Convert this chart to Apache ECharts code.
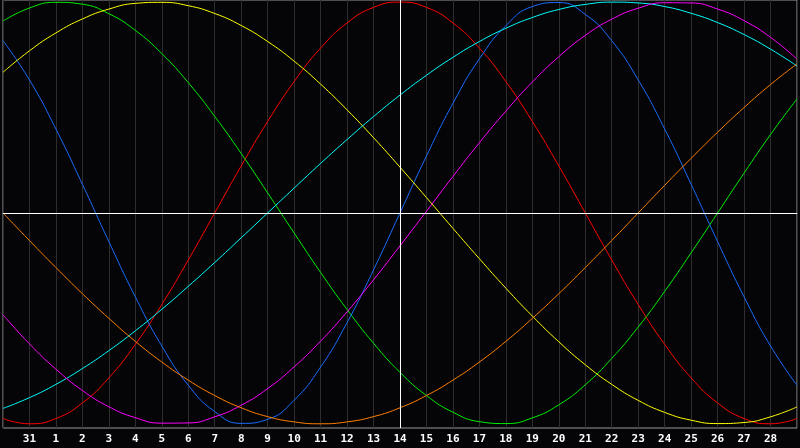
<!DOCTYPE html>
<html>
<head>
<meta charset="utf-8">
<script src="https://cdn.jsdelivr.net/npm/echarts@6/dist/echarts.min.js"></script>
<style>
html,body{margin:0;padding:0;background:#050508;}
#chart{width:800px;height:448px;}
</style>
</head>
<body>
<div id="chart"></div>
<script>
// Day labels (first and last are at the chart edges and not shown)
var dayLabels = ['30','31','1','2','3','4','5','6','7','8','9','10','11','12','13','14','15','16','17','18','19','20','21','22','23','24','25','26','27','28','29'];

// Cycle values (percent), one per day
var redValues     = [-97.5,-100,-97.5,-90.1,-78.2,-62.3,-43.4,-22.3,0,22.3,43.4,62.3,78.2,90.1,97.5,100,97.5,90.1,78.2,62.3,43.4,22.3,0,-22.3,-43.4,-62.3,-78.2,-90.1,-97.5,-100,-97.5];
var blueValues    = [81.7,63.1,39.8,13.6,-13.6,-39.8,-63.1,-81.7,-94.2,-99.8,-97.9,-88.8,-73.1,-52,-27,0,27,52,73.1,88.8,97.9,99.8,94.2,81.7,63.1,39.8,13.6,-13.6,-39.8,-63.1,-81.7];
var greenValues   = [91,97.2,99.9,99,94.5,86.6,75.6,61.8,45.8,28.2,9.5,-9.5,-28.2,-45.8,-61.8,-75.6,-86.6,-94.5,-99,-99.9,-97.2,-91,-81.5,-69,-54.1,-37.2,-18.9,0,18.9,37.2,54.1];
var yellowValues  = [66.7,76.9,85.4,92,96.7,99.4,99.9,98.3,94.6,88.9,81.3,72,61.1,48.9,35.7,21.7,7.3,-7.3,-21.7,-35.7,-48.9,-61.1,-72,-81.3,-88.9,-94.6,-98.3,-99.9,-99.4,-96.7,-92];
var magentaValues = [-48.3,-62.1,-74.1,-84.2,-91.9,-97.1,-99.7,-99.6,-96.7,-91.2,-83.3,-73,-60.8,-46.9,-31.7,-15.6,0.8,17.3,33.3,48.3,62.1,74.1,84.2,91.9,97.1,99.7,99.6,96.7,91.2,83.3,73];
var cyanValues    = [-92.7,-87.6,-81.3,-73.8,-65.3,-55.9,-45.7,-34.8,-23.5,-11.8,0,11.8,23.5,34.8,45.7,55.9,65.3,73.8,81.3,87.6,92.7,96.5,98.9,100,99.6,97.9,94.7,90.3,84.6,77.7,69.7];
var orangeValues  = [0,-13.1,-25.9,-38.3,-50,-60.9,-70.7,-79.3,-86.6,-92.4,-96.6,-99.1,-100,-99.1,-96.6,-92.4,-86.6,-79.3,-70.7,-60.9,-50,-38.3,-25.9,-13.1,0,13.1,25.9,38.3,50,60.9,70.7];

var seriesDefs = [
  {name:'red', data:redValues, color:'#ff0000'},
  {name:'green', data:greenValues, color:'#00ee00'},
  {name:'blue', data:blueValues, color:'#1a6cff'},
  {name:'yellow', data:yellowValues, color:'#ffff00'},
  {name:'cyan', data:cyanValues, color:'#00ffff'},
  {name:'magenta', data:magentaValues, color:'#ff00ff'},
  {name:'orange', data:orangeValues, color:'#ff8000'}
];

var chart = echarts.init(document.getElementById('chart'), null, {renderer:'canvas'});

var series = [{
  type:'line',
  data:[],
  silent:true,
  markLine:{
    silent:true,
    symbol:'none',
    label:{show:false},
    lineStyle:{color:'#ffffff', type:'solid', width:1},
    data:[{yAxis:0},{xAxis:'14'}]
  }
}];
seriesDefs.forEach(function(s){
  series.push({
    type:'line',
    name:s.name,
    data:s.data,
    smooth:true,
    showSymbol:false,
    silent:true,
    lineStyle:{color:s.color, width:1},
    itemStyle:{color:s.color}
  });
});

chart.setOption({
  animation:false,
  backgroundColor:'#050508',
  grid:{left:0, right:-1, top:0, bottom:20, show:true, borderColor:'#9a9a9a', borderWidth:1, backgroundColor:'transparent'},
  xAxis:{
    type:'category',
    data:dayLabels,
    boundaryGap:false,
    axisLine:{show:true, lineStyle:{color:'#9a9a9a', width:1}},
    axisTick:{show:false},
    axisLabel:{
      interval:0,
      color:'#ffffff',
      fontFamily:'DejaVu Sans Mono',
      fontWeight:'bold',
      fontSize:11,
      margin:6,
      formatter:function(v, i){ return (i === 0 || i === dayLabels.length - 1) ? '' : v; }
    },
    splitLine:{show:true, lineStyle:{color:'#2e2e2e', width:1}}
  },
  yAxis:{
    type:'value',
    min:-102,
    max:101,
    axisLine:{show:false},
    axisTick:{show:false},
    axisLabel:{show:false},
    splitLine:{show:false}
  },
  series:series
});
</script>
</body>
</html>
